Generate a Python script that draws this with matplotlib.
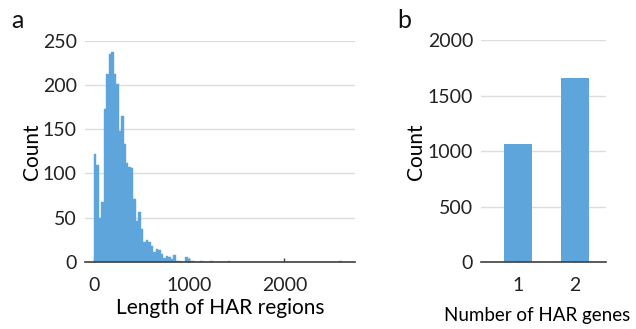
import numpy as np
import matplotlib
matplotlib.use("Agg")
import matplotlib.pyplot as plt

plt.rcParams['font.family'] = ['Lato', 'DejaVu Sans']

# panel a: histogram of HAR region lengths (bin width ~26)
bin_width = 26
len_counts = [122, 109, 50, 68, 173, 212, 235, 237, 213, 201, 148, 165, 133, 112,
              107, 106, 71, 46, 56, 37, 22, 25, 23, 18, 11, 15, 14, 9, 4, 7, 6, 3,
              8, 1, 1, 0, 0, 6, 3, 1, 1, 0, 0, 1, 0, 0, 0, 1, 0, 0, 0, 0, 0, 0,
              1, 0, 0, 0, 0, 0, 0, 0, 0, 0, 0, 0, 0, 0, 0, 0, 0, 0, 0, 0, 0, 0,
              0, 0, 0, 0, 0, 0, 0, 0, 0, 0, 0, 0, 0, 0, 0, 0, 0, 0, 0, 0, 0, 0,
              0, 1]

# panel b: number of HAR genes
gene_labels = [1, 2]
gene_counts = [1067, 1663]

bar_color = '#5DA5DA'
grid_color = '#dcdcdc'
spine_color = '#404040'

fig = plt.figure(figsize=(6.36, 3.29), dpi=100)
ax1 = fig.add_axes([0.134, 0.204, 0.424, 0.672])
ax2 = fig.add_axes([0.757, 0.203, 0.196, 0.674])

lefts = np.arange(len(len_counts)) * bin_width
ax1.bar(lefts, len_counts, width=bin_width, align='edge', color=bar_color,
        edgecolor=bar_color, linewidth=0.3, zorder=2)
ax1.set_xlim(-90, 2740)
ax1.set_ylim(0, 250)
ax1.set_yticks([0, 50, 100, 150, 200, 250])
ax1.set_xticks([0, 1000, 2000])
ax1.set_xlabel('Length of HAR regions', fontsize=15, labelpad=3)
ax1.set_ylabel('Count', fontsize=15, labelpad=1)

ax2.bar(gene_labels, gene_counts, width=0.5, color=bar_color, zorder=2)
ax2.set_xlim(0.36, 2.55)
ax2.set_ylim(0, 2000)
ax2.set_yticks([0, 500, 1000, 1500, 2000])
ax2.set_xticks(gene_labels)
ax2.set_xlabel('Number of HAR genes', fontsize=13.5, labelpad=5)
ax2.xaxis.set_label_coords(0.45, -0.2)
ax2.xaxis.label.set_va('top')
ax2.set_ylabel('Count', fontsize=15, labelpad=1)

for ax in (ax1, ax2):
    for s in ('top', 'right', 'left'):
        ax.spines[s].set_visible(False)
    ax.spines['bottom'].set_color(spine_color)
    ax.spines['bottom'].set_linewidth(1.2)
    ax.spines['bottom'].set_zorder(3)
    ax.yaxis.grid(True, color=grid_color, linewidth=1, zorder=0)
    ax.set_axisbelow(True)
    ax.tick_params(axis='y', length=0, labelsize=14, pad=6, labelcolor='#222222')
    ax.tick_params(axis='x', direction='in', length=3, width=1, color=spine_color,
                   labelsize=14, pad=11, labelcolor='#222222')

fig.text(0.018, 0.915, 'a', fontsize=18, color='#111111')
fig.text(0.624, 0.915, 'b', fontsize=18, color='#111111')

fig.savefig('out.png', dpi=100)
